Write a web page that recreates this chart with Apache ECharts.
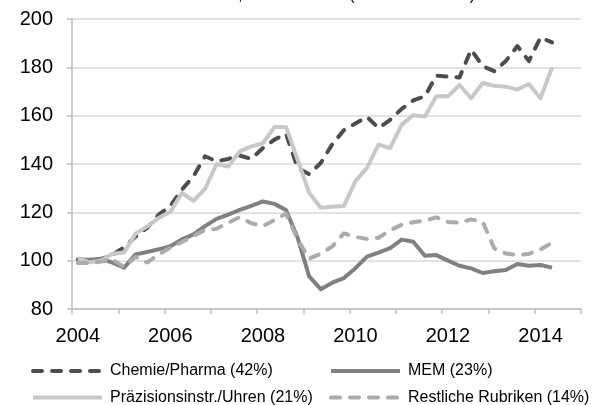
<!DOCTYPE html>
<html>
<head>
<meta charset="utf-8">
<script src="https://cdn.jsdelivr.net/npm/echarts@6/dist/echarts.min.js"></script>
<style>
  html, body { margin: 0; padding: 0; background: #fff; }
  #chart { width: 595px; height: 405px; }
</style>
</head>
<body>
<div id="chart"></div>
<script>
// quarterly index, 2004Q1 .. 2014Q2 (axis runs to 2014Q4)
var years = ['2004', '2005', '2006', '2007', '2008', '2009', '2010', '2011', '2012', '2013', '2014'];
var yearLabels = ['2004', '2006', '2008', '2010', '2012', '2014'];

var chemie = [100.5, 100.2, 100.6, 102.4, 105.5, 110.0, 113.6, 119.1, 122.6, 129.4, 134.9, 143.2, 141.1, 142.1,
  143.5, 142.1, 146.6, 150.1, 152.5, 138.4, 135.8, 140.4, 148.2, 154.0, 156.8, 159.5, 154.9, 158.3, 162.8, 166.3,
  168.0, 176.6, 176.2, 175.8, 187.3, 180.5, 178.4, 182.6, 188.8, 182.6, 192.4, 190.3];
var mem = [100.5, 100.4, 100.8, 99.2, 97.1, 102.6, 103.6, 104.7, 106.0, 108.8, 110.9, 114.3, 117.3, 119.1,
  121.0, 122.7, 124.5, 123.5, 121.0, 109.5, 93.5, 88.2, 90.9, 92.8, 96.9, 101.7, 103.3, 105.2, 108.7, 107.8,
  102.0, 102.3, 100.0, 97.9, 96.8, 94.9, 95.6, 96.1, 98.6, 97.9, 98.2, 97.1];
var praez = [101.0, 99.3, 100.0, 102.9, 103.4, 111.2, 114.2, 117.7, 120.2, 128.0, 124.8, 129.7, 140.0, 138.9,
  145.2, 147.3, 148.6, 155.3, 155.3, 141.8, 128.1, 121.9, 122.3, 122.6, 132.9, 138.4, 148.0, 146.6, 156.3, 160.2,
  159.7, 168.0, 168.0, 172.7, 167.2, 173.5, 172.4, 172.0, 170.8, 173.1, 167.2, 180.0];
var restl = [99.0, 99.0, 99.6, 100.5, 97.3, 101.6, 99.2, 102.6, 105.4, 107.7, 110.2, 112.7, 113.2, 115.7,
  118.0, 115.5, 114.3, 116.8, 119.5, 108.8, 100.8, 102.9, 105.9, 111.3, 109.8, 109.0, 109.5, 112.5, 114.9, 115.9,
  116.6, 117.9, 116.0, 115.7, 117.1, 116.1, 105.1, 103.0, 102.3, 102.8, 104.7, 107.4];

var names = ['Chemie/Pharma (42%)', 'MEM (23%)', 'Präzisionsinstr./Uhren (21%)', 'Restliche Rubriken (14%)'];

var quarters = [];
years.forEach(function (y) {
  for (var q = 1; q <= 4; q++) quarters.push(y + 'Q' + q);
});

var FONT = 'Liberation Sans, Arial, sans-serif';

function mkSeries(name, data, color, dashed) {
  return {
    name: name,
    type: 'line',
    data: data,
    symbol: 'none',
    smooth: false,
    color: color,
    lineStyle: {
      color: color,
      width: 4,
      type: dashed ? [9, 10] : 'solid',
      cap: dashed ? 'round' : 'butt',
      join: 'round'
    }
  };
}

// one legend box per entry, two columns like the original
function mkLegend(name, left, top) {
  return {
    left: left,
    top: top,
    padding: 0,
    itemWidth: 69,
    itemHeight: 10,
    data: [name],
    itemStyle: { opacity: 0 },
    lineStyle: { width: 4 },
    textStyle: { fontFamily: FONT, fontSize: 16, color: '#000', lineHeight: 16, padding: [0, 0, 0, 3] }
  };
}

var chart = echarts.init(document.getElementById('chart'), null, { renderer: 'canvas' });

chart.setOption({
  animation: false,
  backgroundColor: '#fff',
  title: {
    text: 'Ausfuhren nach Branchen, Nominalwerte (Index 2004=100)',
    left: 48,
    top: -17,
    textStyle: { fontFamily: FONT, fontSize: 16, fontWeight: 'normal', color: '#000' }
  },
  grid: { left: 72, right: 14, top: 19, bottom: 96, containLabel: false },
  legend: [
    mkLegend(names[0], 31, 363),
    mkLegend(names[1], 329, 363),
    mkLegend(names[2], 31, 389.5),
    mkLegend(names[3], 329, 389.5)
  ],
  xAxis: {
    type: 'category',
    data: quarters,
    boundaryGap: true,
    axisLine: { lineStyle: { color: '#bfbfbf', width: 1.5 } },
    axisTick: { show: true, interval: 3, length: 5, lineStyle: { color: '#bfbfbf', width: 1.5 } },
    axisLabel: {
      interval: 7,
      margin: 17,
      fontFamily: FONT,
      fontSize: 20,
      color: '#000',
      formatter: function (v) {
        var y = v.slice(0, 4);
        return yearLabels.indexOf(y) >= 0 && v.slice(4) === 'Q1' ? y : '';
      }
    },
    splitLine: { show: false }
  },
  yAxis: {
    type: 'value',
    min: 80,
    max: 200,
    interval: 20,
    axisLine: { show: true, lineStyle: { color: '#bfbfbf', width: 1.5 } },
    axisTick: { show: true, length: 5, lineStyle: { color: '#bfbfbf', width: 1.5 } },
    axisLabel: { margin: 19, fontFamily: FONT, fontSize: 20, color: '#000' },
    splitLine: { lineStyle: { color: '#d9d9d9', width: 1.5 } }
  },
  series: [
    mkSeries(names[0], chemie, '#4d4d4d', true),
    mkSeries(names[1], mem, '#808080', false),
    mkSeries(names[2], praez, '#c8c8c8', false),
    mkSeries(names[3], restl, '#ababab', true)
  ]
});
</script>
</body>
</html>
